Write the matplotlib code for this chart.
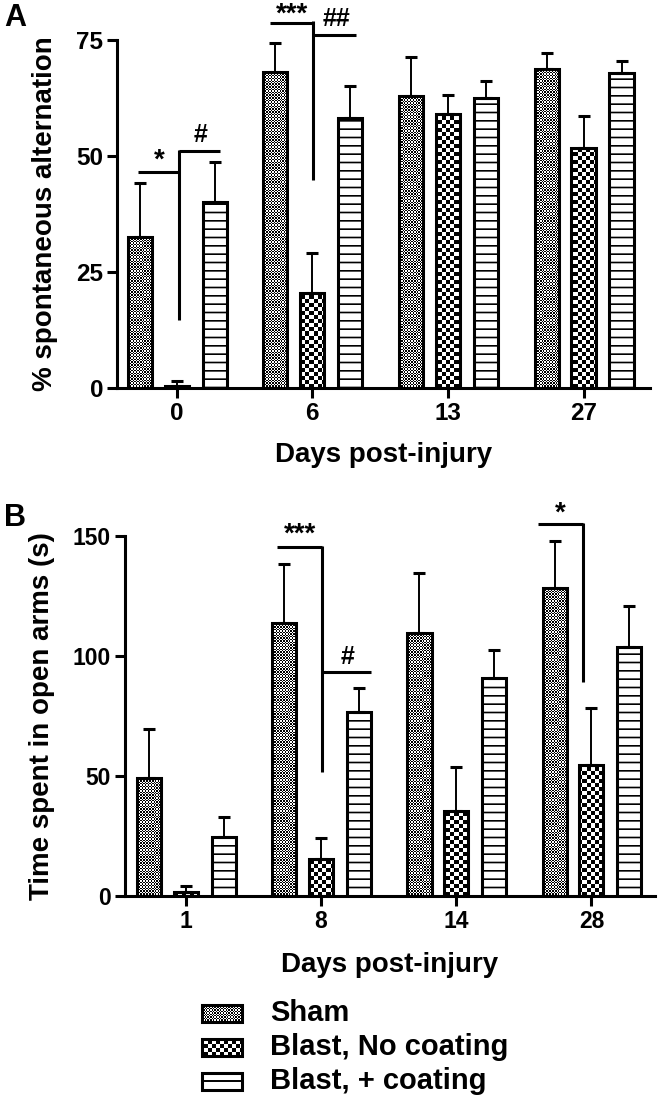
import numpy as np
import matplotlib
matplotlib.use('Agg')
import matplotlib.pyplot as plt
from matplotlib.patches import Rectangle

plt.rcParams['font.family'] = ['Liberation Sans', 'DejaVu Sans']
plt.rcParams['font.weight'] = 'bold'
plt.rcParams['axes.labelweight'] = 'bold'
plt.rcParams['hatch.linewidth'] = 1.2

# ---- data ----
days_a = ['0', '6', '13', '27']
days_b = ['1', '8', '14', '28']
groups = ['Sham', 'Blast, No coating', 'Blast, + coating']

# panel A: % spontaneous alternation (mean, SEM)
sham_a = [32.5, 68.1, 63.0, 68.7]
sham_a_err = [11.7, 6.3, 8.3, 3.5]
blast_a = [0.5, 20.5, 59.0, 51.7]
blast_a_err = [1.0, 8.5, 4.1, 6.9]
coat_a = [40.0, 58.2, 62.5, 67.9]
coat_a_err = [8.7, 6.8, 3.7, 2.6]

# panel B: time spent in open arms (s)
sham_b = [49.2, 113.8, 109.6, 128.3]
sham_b_err = [20.4, 24.5, 25.0, 19.7]
blast_b = [1.5, 15.4, 35.4, 54.6]
blast_b_err = [2.5, 8.6, 18.4, 23.7]
coat_b = [24.6, 76.7, 90.8, 103.8]
coat_b_err = [8.4, 10.0, 11.7, 17.0]

W, H = 660, 1101
fig = plt.figure(figsize=(W / 100, H / 100), dpi=100)
axA = fig.add_axes([117 / W, 1 - 388 / H, 533 / W, 348 / H])
axB = fig.add_axes([125 / W, 1 - 896 / H, 530 / W, 360 / H])

LW = 2.2
width = 0.178
offsets = [-0.272, 0.0, 0.28]
styles = [('checker', 1.4), ('checker', 4.0), ('hatch', '--')]


def texture(ax, patch, cell):
    # checkerboard fill clipped to a patch
    bb = ax.get_window_extent()
    nx = max(2, int(round(bb.width / cell)))
    ny = max(2, int(round(bb.height / cell)))
    img = np.indices((ny, nx)).sum(0) % 2
    x0, x1 = ax.get_xlim()
    y0, y1 = ax.get_ylim()
    im = ax.imshow(img, cmap='gray', vmin=0, vmax=1, extent=(x0, x1, min(y0, y1), max(y0, y1)),
                   origin='lower', interpolation='nearest', aspect='auto', zorder=1)
    im.set_clip_path(patch)
    ax.set_xlim(x0, x1)
    ax.set_ylim(y0, y1)


def draw_panel(ax, series, errs, ticks, xlim, ylim, yticks, ylabel, ticksize):
    ax.set_xlim(*xlim)
    ax.set_ylim(*ylim)
    x = np.arange(len(ticks))
    for vals, err, off, (kind, arg) in zip(series, errs, offsets, styles):
        if kind == 'checker':
            bars = ax.bar(x + off, vals, width, facecolor='none', edgecolor='black',
                          linewidth=LW, zorder=3)
            for b in bars:
                texture(ax, b, arg)
        else:
            ax.bar(x + off, vals, width, facecolor='white', edgecolor='black',
                   linewidth=LW, hatch=arg, zorder=3)
        ax.errorbar(x + off, vals, yerr=[np.zeros(len(vals)), err], fmt='none',
                    ecolor='black', elinewidth=1.4, capsize=4, capthick=2.2, zorder=4)
    ax.set_xticks(x)
    ax.set_xticklabels(ticks)
    ax.set_yticks(yticks)
    for s in ['top', 'right']:
        ax.spines[s].set_visible(False)
    for s in ['left', 'bottom']:
        ax.spines[s].set_linewidth(LW)
    ax.tick_params(width=LW, length=7, labelsize=ticksize, pad=3)
    ax.set_xlabel('Days post-injury', fontsize=20, va='center')
    ax.set_ylabel(ylabel, fontsize=20, va='center')


draw_panel(axA, [sham_a, blast_a, coat_a], [sham_a_err, blast_a_err, coat_a_err],
           days_a, (-0.44, 3.49), (0, 75), [0, 25, 50, 75], '% spontaneous alternation', 17.5)
draw_panel(axB, [sham_b, blast_b, coat_b], [sham_b_err, blast_b_err, coat_b_err],
           days_b, (-0.45, 3.47), (0, 150), [0, 50, 100, 150], 'Time spent in open arms (s)', 16.5)
axA.xaxis.set_label_coords(0.5, -0.193)
axA.yaxis.set_label_coords(-0.135, 0.5)
axB.xaxis.set_label_coords(0.5, -0.192)
axB.yaxis.set_label_coords(-0.157, 0.5)


def bracket(ax, xs, ys):
    ax.plot(xs, ys, color='black', lw=LW, clip_on=False, zorder=5, solid_capstyle='butt')


# panel A significance marks
bracket(axA, [-0.287, 0.015], [46.5, 46.5])
bracket(axA, [0.015, 0.015], [51.4, 14.6])
bracket(axA, [0.015, 0.317], [51, 51])
axA.text(-0.13, 49.1, '*', fontsize=20, ha='center', va='center')
axA.text(0.177, 54.5, '#', fontsize=18, ha='center', va='center')
bracket(axA, [0.69, 1.007], [78.7, 78.7])
bracket(axA, [1.007, 1.007], [79.1, 44.8])
bracket(axA, [1.007, 1.324], [76, 76])
axA.text(0.853, 80.5, '***', fontsize=20, ha='center', va='center', clip_on=False)
axA.text(1.18, 79.5, '##', fontsize=18, ha='center', va='center', clip_on=False)

# panel B significance marks
bracket(axB, [0.674, 1.007], [145.4, 145.4])
bracket(axB, [1.007, 1.007], [145.9, 51.7])
bracket(axB, [1.007, 1.37], [93.3, 93.3])
axB.text(0.844, 150.5, '***', fontsize=20, ha='center', va='center', clip_on=False)
axB.text(1.193, 99.6, '#', fontsize=18, ha='center', va='center')
bracket(axB, [2.607, 2.941], [155, 155])
bracket(axB, [2.941, 2.941], [155.5, 89.2])
axB.text(2.77, 159.5, '*', fontsize=20, ha='center', va='center', clip_on=False)

# panel letters
fig.text(4 / W, 1 - 18 / H, 'A', fontsize=22, va='center', ha='left')
fig.text(4 / W, 1 - 518 / H, 'B', fontsize=22, va='center', ha='left')

# legend drawn in pixel coordinates
leg = fig.add_axes([0, 0, 1, 1])
leg.set_xlim(0, W)
leg.set_ylim(H, 0)
leg.axis('off')
leg.patch.set_alpha(0)
for i, (name, (kind, arg)) in enumerate(zip(groups, styles)):
    yc = 1013 + i * 34
    if kind == 'checker':
        r = Rectangle((202, yc - 8.5), 40, 17, facecolor='none', edgecolor='black', lw=LW, zorder=3)
        leg.add_patch(r)
        texture(leg, r, arg)
    else:
        r = Rectangle((202, yc - 8.5), 40, 17, facecolor='white', edgecolor='black', lw=LW, zorder=3)
        leg.add_patch(r)
        leg.plot([202, 242], [yc, yc], color='black', lw=1.4, zorder=4)
    leg.text(270, yc, name, fontsize=21, va='center', ha='left')

fig.savefig('out.png', dpi=100)
